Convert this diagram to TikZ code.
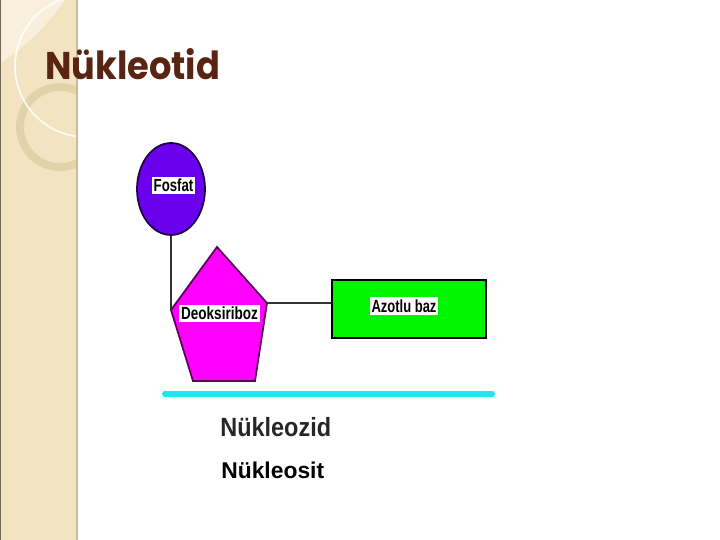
\documentclass[tikz,border=0pt]{standalone}
\usepackage{fontspec}
\setsansfont{Liberation Sans}
\newfontfamily\basliktext{Poppins}
\usetikzlibrary{shapes.geometric, positioning}
\definecolor{serit}{HTML}{F2E4C0}
\definecolor{seritkenar}{HTML}{CBBB98}
\definecolor{halka}{HTML}{E2D2AA}
\definecolor{baslikrenk}{HTML}{5A2412}
\definecolor{fosfatmor}{HTML}{6A00EC}
\definecolor{sekerpembe}{HTML}{FF00FF}
\definecolor{bazyesil}{HTML}{00F500}
\definecolor{camgobegi}{HTML}{1EE6F0}

\begin{document}
\begin{tikzpicture}[x=0.02cm, y=-0.02cm,
    etiket/.style={fill=white, inner xsep=1pt, inner ysep=1.3pt,
      font=\sffamily\bfseries\fontsize{10}{10}\selectfont},
    bag/.style={draw=black!80, line width=1.3pt}]

    \useasboundingbox (0,0) rectangle (720,540);

    % Left strip with its rings
    \fill[serit] (0,0) rectangle (78,540);
    \begin{scope}
      \clip (0,0) rectangle (77,540);
      \fill[serit!55!white] (0,0) -- (0,63) .. controls (25,48) and (50,22) .. (65,0) -- cycle;
      \draw[halka, line width=4.5pt] (60,127) circle[radius=0.8cm];
      \draw[white, opacity=0.85, line width=1pt] (86,66) circle[radius=1.42cm];
    \end{scope}
    \draw[seritkenar, line width=1.2pt] (77,0) -- (77,540);
    \draw[black!55!serit, line width=0.8pt] (0.4,0) -- (0.4,540);

    % Title
    \node[anchor=base west, inner sep=0pt, text=baslikrenk,
      font=\basliktext\bfseries\fontsize{22}{22}\selectfont] (baslik) at (45,80)
      {\scalebox{0.91}[1]{Nükleotid}};

    % Phosphate
    \node[ellipse, draw=black!70!fosfatmor, fill=fosfatmor, line width=1pt,
      minimum width=1.36cm, minimum height=1.84cm, inner sep=0pt] (fosfat) at (171,189) {};
    \node[etiket] (fosfatyazi) at (173.5,185.5) {\scalebox{0.75}[1]{Fosfat}};

    % Sugar
    \coordinate (s1) at (217,247);
    \coordinate (s2) at (171,310);
    \coordinate (s3) at (193,381);
    \coordinate (s4) at (255,381);
    \coordinate (s5) at (267,303);
    \filldraw[fill=sekerpembe, draw=black!65!sekerpembe, line width=1pt]
      (s1) -- (s2) -- (s3) -- (s4) -- (s5) -- cycle;
    \node[etiket] (sekeryazi) at (219.5,313.5) {\scalebox{0.77}[1]{Deoksiriboz}};

    % Base
    \node[draw=black, fill=bazyesil, line width=1.1pt, inner sep=0pt,
      minimum width=3.08cm, minimum height=1.16cm] (baz) at (409,309) {};
    \node[etiket] (bazyazi) at (404,306) {\scalebox{0.74}[1]{Azotlu baz}};

    % Bonds
    \draw[bag] (fosfat.south) -- (s2);
    \draw[bag] (s5) -- (s5 -| baz.west);

    % Underline and names
    \draw[camgobegi, line width=3.4pt, line cap=round] (165,394) -- (492,394);
    \node[anchor=base west, inner sep=0pt, text=black!85,
      font=\sffamily\bfseries\fontsize{15}{15}\selectfont] (nukleozid) at (220,437)
      {\scalebox{0.89}[1]{Nükleozid}};
    \node[anchor=base west, inner sep=0pt,
      font=\sffamily\bfseries\fontsize{13}{13}\selectfont] (nukleosit) at (221,478) {Nükleosit};

\end{tikzpicture}
\end{document}
